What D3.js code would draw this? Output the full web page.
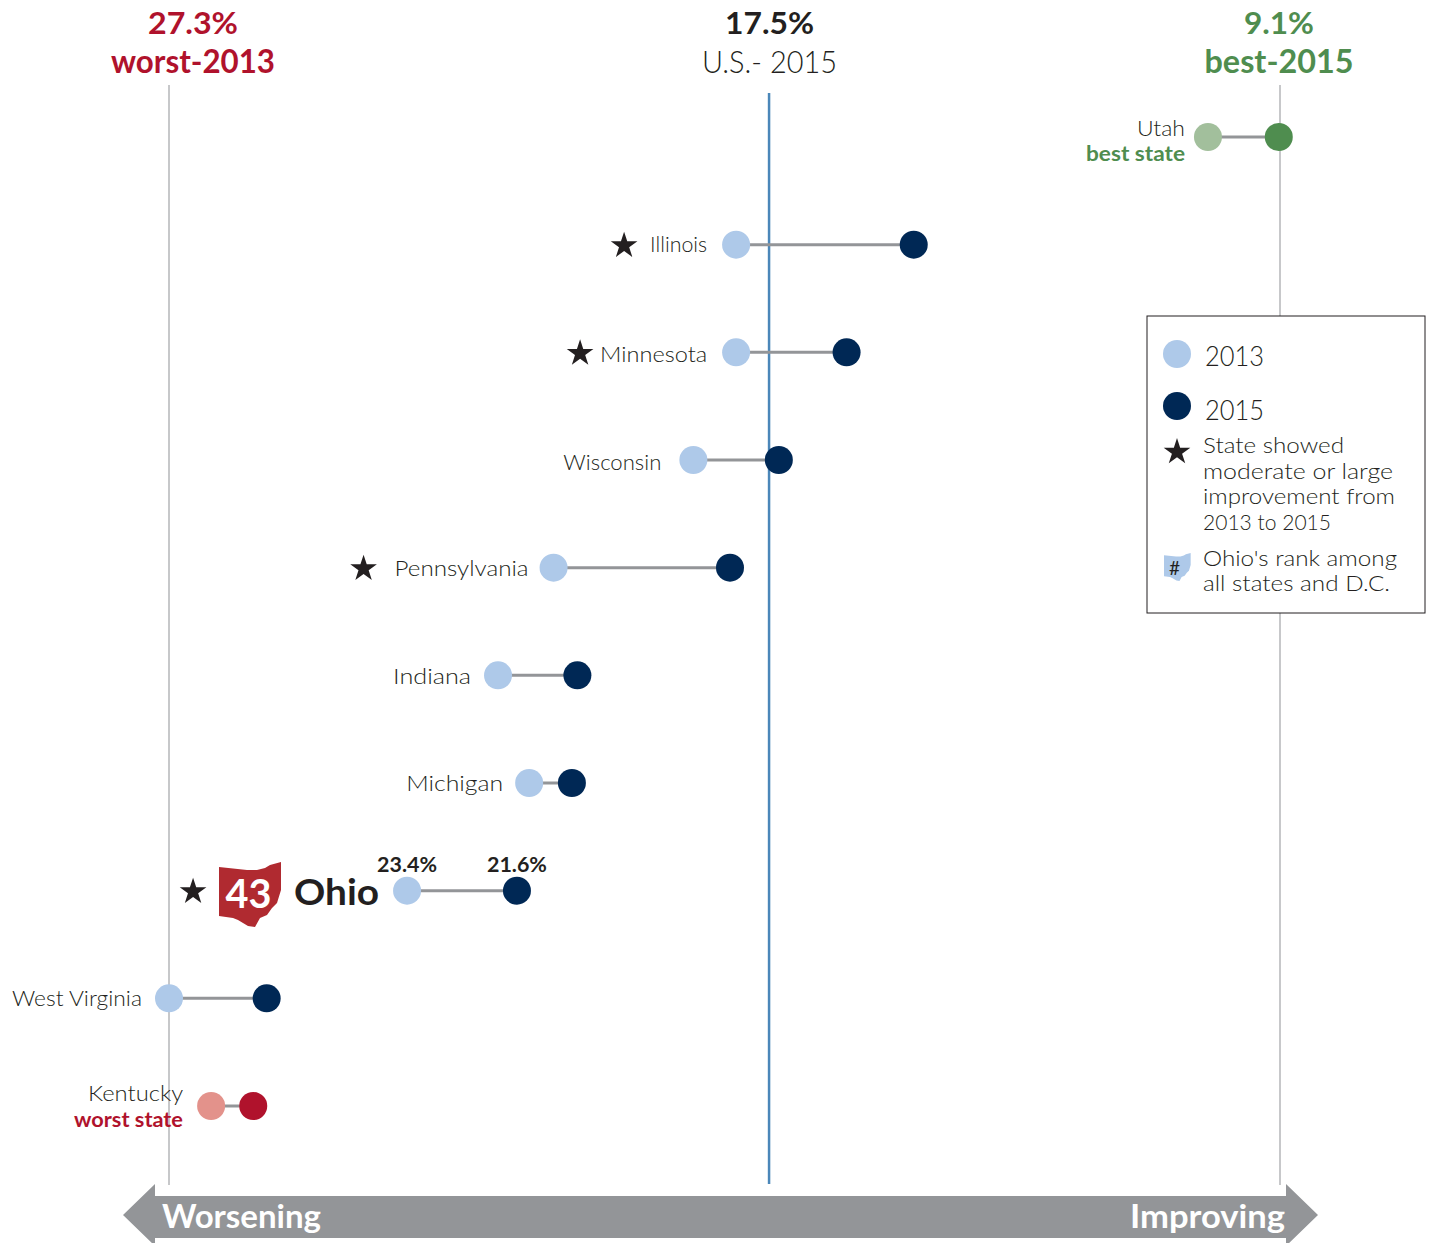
<!DOCTYPE html>
<html>
<head>
<meta charset="utf-8">
<script src="https://cdn.jsdelivr.net/npm/d3@7"></script>
<style>
  body { margin: 0; background: #fff; }
  svg { display: block; }
  text { font-family: Lato, "Open Sans", sans-serif; }
</style>
</head>
<body>
<div id="chart"></div>
<script>
const states = ['Utah', 'Illinois', 'Minnesota', 'Wisconsin', 'Pennsylvania', 'Indiana', 'Michigan', 'Ohio', 'West Virginia', 'Kentucky']
const values2013 = [10.28, 18.01, 18.01, 18.71, 21.0, 21.91, 21.4, 23.4, 27.3, 26.61]
const values2015 = [9.12, 15.1, 16.2, 17.31, 18.11, 20.61, 20.7, 21.6, 25.7, 25.92]
const starred = ['Illinois', 'Minnesota', 'Pennsylvania', 'Ohio']
const usValue = 17.47

// label placement, in px left of the 2013 dot
const labelGap = { Utah: 23, Illinois: 29, Minnesota: 29, Wisconsin: 32, Pennsylvania: 25, Indiana: 27, Michigan: 26, 'West Virginia': 27, Kentucky: 28 }
const labelWidth = { Utah: 48, Illinois: 57, Minnesota: 107, Wisconsin: 98, Pennsylvania: 134, Indiana: 78, Michigan: 97, 'West Virginia': 130, Kentucky: 95 }
const labelDrop = { Utah: -1, Illinois: 7, Minnesota: 10, Wisconsin: 10, Pennsylvania: 8, Indiana: 9, Michigan: 8, 'West Virginia': 8, Kentucky: -5 }
const starGap = { Illinois: 112, Minnesota: 156, Pennsylvania: 190, Ohio: 214 }

const width = 1429
const height = 1243
const ink = '#231f20'
const grey = '#939598'
const light = '#aec9e9'
const navy = '#002855'
const green = '#4f8d4f'
const greenLight = '#a2bf9c'
const red = '#b0122c'
const redLight = '#e3928b'

const xScale = d3.scaleLinear().domain([27.3, 9.1]).range([169, 1280])
const yScale = d3.scalePoint().domain(states).range([137, 1106])

const svg = d3.select('#chart').append('svg')
  .attr('width', width)
  .attr('height', height)

// text helper, width stretches the fallback font to the original run length
function label(x, y, str, o) {
  const t = svg.append('text')
    .attr('x', x)
    .attr('y', y)
    .attr('font-size', o.size)
    .attr('font-weight', o.weight || 300)
    .attr('fill', o.fill || ink)
    .attr('text-anchor', o.anchor || 'start')
    .text(str)
  if (o.width) t.attr('textLength', o.width).attr('lengthAdjust', 'spacingAndGlyphs')
  return t
}

function star(x, y, r) {
  svg.append('path')
    .attr('d', d3.symbol(d3.symbolStar, Math.PI * r * r * 0.53)())
    .attr('transform', 'translate(' + x + ',' + y + ')')
    .attr('fill', ink)
}

// reference lines
svg.selectAll('.edge')
  .data([27.3, 9.1])
  .enter()
  .append('line')
  .attr('class', 'edge')
  .attr('x1', d => xScale(d))
  .attr('x2', d => xScale(d))
  .attr('y1', 85)
  .attr('y2', 1185)
  .attr('stroke', '#b4b6b8')
  .attr('stroke-width', 1.5)

svg.append('line')
  .attr('x1', xScale(usValue))
  .attr('x2', xScale(usValue))
  .attr('y1', 93)
  .attr('y2', 1184)
  .attr('stroke', '#4b87b9')
  .attr('stroke-width', 2.5)

// header
label(193, 34, '27.3%', { size: 31, weight: 700, fill: red, anchor: 'middle', width: 90 })
label(193, 73, 'worst-2013', { size: 32, weight: 700, fill: red, anchor: 'middle', width: 164 })
label(769.5, 34, '17.5%', { size: 31, weight: 700, anchor: 'middle', width: 89 })
label(769.5, 73, 'U.S.- 2015', { size: 32, anchor: 'middle', width: 135 })
label(1279, 34, '9.1%', { size: 31, weight: 700, fill: green, anchor: 'middle', width: 70 })
label(1279, 73, 'best-2015', { size: 32, weight: 700, fill: green, anchor: 'middle', width: 149 })

// dumbbells
const rows = states.map((s, i) => ({ state: s, a: values2013[i], b: values2015[i] }))

svg.selectAll('.link')
  .data(rows)
  .enter()
  .append('line')
  .attr('class', 'link')
  .attr('x1', d => xScale(d.a))
  .attr('x2', d => xScale(d.b))
  .attr('y1', d => yScale(d.state))
  .attr('y2', d => yScale(d.state))
  .attr('stroke', grey)
  .attr('stroke-width', 3)

const color2013 = d => d.state === 'Utah' ? greenLight : d.state === 'Kentucky' ? redLight : light
const color2015 = d => d.state === 'Utah' ? green : d.state === 'Kentucky' ? red : navy

svg.selectAll('.dot2013')
  .data(rows)
  .enter()
  .append('circle')
  .attr('class', 'dot2013')
  .attr('cx', d => xScale(d.a))
  .attr('cy', d => yScale(d.state))
  .attr('r', 14)
  .attr('fill', color2013)

svg.selectAll('.dot2015')
  .data(rows)
  .enter()
  .append('circle')
  .attr('class', 'dot2015')
  .attr('cx', d => xScale(d.b))
  .attr('cy', d => yScale(d.state))
  .attr('r', 14)
  .attr('fill', color2015)

// state labels
rows.filter(d => d.state !== 'Ohio').forEach(d => {
  label(xScale(d.a) - labelGap[d.state], yScale(d.state) + labelDrop[d.state], d.state, { size: 21.5, anchor: 'end', width: labelWidth[d.state] })
})
label(1185, 161, 'best state', { size: 21.5, weight: 700, fill: green, anchor: 'end', width: 99 })
label(183, 1127, 'worst state', { size: 21.5, weight: 700, fill: red, anchor: 'end', width: 109 })

rows.filter(d => starred.includes(d.state)).forEach(d => {
  star(xScale(d.a) - starGap[d.state], yScale(d.state) + 1, 11.5)
})

// Ohio row
const ohioShape = 'M0,5 L28,8 L38,8 L46,6 L51,3 L62,0 L62,28 L58,41 L53,46 L48,53 L41,56 L36,65 L29,64 L19,58 L14,56 L0,54 Z'

svg.append('path')
  .attr('d', ohioShape)
  .attr('transform', 'translate(219,862)')
  .attr('fill', '#b02a30')

label(248.5, 908, '43', { size: 41, weight: 700, fill: '#fff', anchor: 'middle', width: 46 })
label(294, 905, 'Ohio', { size: 37, weight: 700, width: 85 })
label(xScale(23.4), 872, '23.4%', { size: 20.5, weight: 700, anchor: 'middle', width: 60 })
label(xScale(21.6), 872, '21.6%', { size: 20.5, weight: 700, anchor: 'middle', width: 60 })

// legend
svg.append('rect')
  .attr('x', 1147)
  .attr('y', 316)
  .attr('width', 278)
  .attr('height', 297)
  .attr('fill', '#fff')
  .attr('stroke', ink)
  .attr('stroke-width', 1)

svg.append('circle').attr('cx', 1177).attr('cy', 354).attr('r', 14).attr('fill', light)
svg.append('circle').attr('cx', 1177).attr('cy', 406).attr('r', 14).attr('fill', navy)
star(1177, 452, 11.5)

label(1205, 366, '2013', { size: 27, width: 59 })
label(1205, 420, '2015', { size: 27, width: 59 })
label(1203, 453, 'State showed', { size: 21.5, width: 141 })
label(1203, 479, 'moderate or large', { size: 21.5, width: 190 })
label(1203, 504, 'improvement from', { size: 21.5, width: 192 })
label(1203, 530, '2013 to 2015', { size: 21.5, width: 128 })
label(1203, 566, "Ohio's rank among", { size: 21.5, width: 194 })
label(1203, 591, 'all states and D.C.', { size: 21.5, width: 187 })

svg.append('path')
  .attr('d', ohioShape)
  .attr('transform', 'translate(1164,553) scale(0.43)')
  .attr('fill', light)
label(1174.5, 575, '#', { size: 19, weight: 400, anchor: 'middle' })

// direction arrow
svg.append('path')
  .attr('d', d3.line()([[123, 1215], [155, 1184], [155, 1196], [1286, 1196], [1286, 1184], [1318, 1215], [1286, 1246], [1286, 1238], [155, 1238], [155, 1246]]) + 'Z')
  .attr('fill', grey)

label(162, 1228, 'Worsening', { size: 32, weight: 700, fill: '#fff', width: 159 })
label(1285, 1228, 'Improving', { size: 32, weight: 700, fill: '#fff', anchor: 'end', width: 155 })
</script>
</body>
</html>
